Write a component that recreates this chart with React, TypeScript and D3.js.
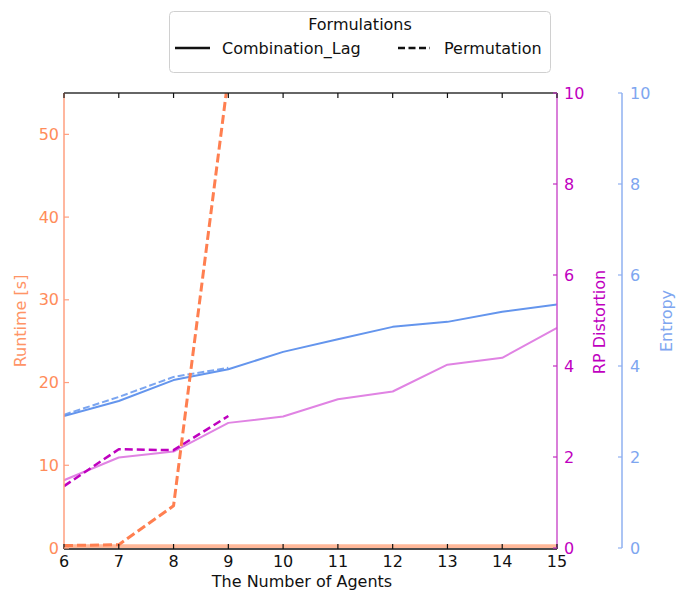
import React from "react";
import * as d3 from "d3";

const agents = [6, 7, 8, 9, 10, 11, 12, 13, 14, 15];
const agentsPerm = [6, 7, 8, 9];

const runtimeComb = [0.2, 0.2, 0.2, 0.2, 0.2, 0.2, 0.2, 0.2, 0.2, 0.2];
const runtimePerm = [0.3, 0.4, 5.1, 57];

const distortionComb = [1.49, 1.99, 2.12, 2.75, 2.89, 3.27, 3.44, 4.03, 4.18, 4.84];
const distortionPerm = [1.36, 2.17, 2.15, 2.9];

const entropyComb = [2.9, 3.23, 3.69, 3.93, 4.31, 4.59, 4.86, 4.97, 5.19, 5.35];
const entropyPerm = [2.93, 3.32, 3.76, 3.96];

const xTicks = [6, 7, 8, 9, 10, 11, 12, 13, 14, 15];
const runtimeTicks = [0, 10, 20, 30, 40, 50];
const rightTicks = [0, 2, 4, 6, 8, 10];

const FONT = "DejaVu Sans, sans-serif";
const L = 64, R = 557, T = 93, B = 548;
const E_AXIS = 622;

const cCoral = "#ff7f50";
const cSalmon = "#ffb899";
const cMagenta = "#bf00bf";
const cViolet = "#e083e3";
const cBlue = "#6495ed";

export default function App() {
  const x = d3.scaleLinear().domain([6, 15]).range([L, R]);
  const yR = d3.scaleLinear().domain([0, 55]).range([B, T]);
  const yD = d3.scaleLinear().domain([0, 10]).range([B, T]);
  const yE = d3.scaleLinear().domain([0, 10]).range([B, T]);

  const mk = (xs: number[], ys: number[], y: d3.ScaleLinear<number, number>) =>
    d3.line<number>().x((_, i) => x(xs[i])).y((d) => y(d))(ys) || "";

  return (
    <div style={{ position: "absolute", left: 0, top: 0 }}>
      <svg width={677} height={597} style={{ display: "block", fontFamily: FONT }}>
        <rect width={677} height={597} fill="#fff" />
        <defs>
          <clipPath id="plot">
            <rect x={L} y={T} width={R - L} height={B - T} />
          </clipPath>
        </defs>

        {/* data */}
        <g clipPath="url(#plot)" fill="none" strokeLinejoin="round">
          <path d={mk(agents, runtimeComb, yR)} stroke={cSalmon} strokeWidth={4} />
          <path d={mk(agents, entropyComb, yE)} stroke={cBlue} strokeWidth={2} />
          <path d={mk(agentsPerm, entropyPerm, yE)} stroke={cBlue} strokeWidth={2} strokeDasharray="7,3" opacity={0.85} />
          <path d={mk(agents, distortionComb, yD)} stroke={cViolet} strokeWidth={2} />
          <path d={mk(agentsPerm, distortionPerm, yD)} stroke={cMagenta} strokeWidth={2.5} strokeDasharray="8,4" />
          <path d={mk(agentsPerm, runtimePerm, yR)} stroke={cCoral} strokeWidth={3} strokeDasharray="9,4" />
        </g>

        {/* spines */}
        <line x1={L} x2={R} y1={T} y2={T} stroke="#333" strokeWidth={1.5} />
        <line x1={L} x2={R} y1={B + 1} y2={B + 1} stroke="#111" strokeWidth={1.5} />
        <line x1={L} x2={L} y1={T} y2={B + 1} stroke="#ff9f7f" strokeWidth={1.5} />
        <line x1={R} x2={R} y1={T} y2={B + 1} stroke="#cc55cc" strokeWidth={1.5} />
        <line x1={E_AXIS} x2={E_AXIS} y1={T} y2={B} stroke="#8fb0f0" strokeWidth={1.5} />

        {/* x ticks */}
        {xTicks.map((t) => (
          <g key={"x" + t}>
            <line x1={x(t)} x2={x(t)} y1={B + 1} y2={B - 4} stroke="#111" strokeWidth={1.2} />
            <line x1={x(t)} x2={x(t)} y1={T} y2={T + 5} stroke="#111" strokeWidth={1.2} />
            <text x={x(t)} y={567} fontSize={16} textAnchor="middle" fill="#111">
              {t}
            </text>
          </g>
        ))}
        <text x={302} y={587} fontSize={16} textAnchor="middle" fill="#111">
          The Number of Agents
        </text>

        {/* runtime axis */}
        {runtimeTicks.map((t) => (
          <g key={"r" + t}>
            <line x1={L} x2={L + 5} y1={yR(t)} y2={yR(t)} stroke="#ff9f7f" strokeWidth={1.2} />
            <text x={59} y={yR(t)} dy="0.35em" fontSize={16} textAnchor="end" fill="#ff8c5a">
              {t}
            </text>
          </g>
        ))}
        <text
          transform={`translate(26,${321}) rotate(-90)`}
          fontSize={16}
          textAnchor="middle"
          fill="#ff9466"
        >
          Runtime [s]
        </text>

        {/* distortion axis */}
        {rightTicks.map((t) => (
          <g key={"d" + t}>
            <line x1={R - 4} x2={R} y1={yD(t)} y2={yD(t)} stroke="#c030c0" strokeWidth={1.2} />
            <text x={564} y={yD(t)} dy="0.35em" fontSize={16} textAnchor="start" fill={cMagenta}>
              {t}
            </text>
          </g>
        ))}
        <text
          transform={`translate(605,${322}) rotate(-90)`}
          fontSize={16}
          textAnchor="middle"
          fill={cMagenta}
        >
          RP Distortion
        </text>

        {/* entropy axis */}
        {rightTicks.map((t) => (
          <g key={"e" + t}>
            <line x1={E_AXIS - 4} x2={E_AXIS} y1={yE(t)} y2={yE(t)} stroke="#8fb0f0" strokeWidth={1.2} />
            <text x={630} y={yE(t)} dy="0.35em" fontSize={16} textAnchor="start" fill="#7ea6f0">
              {t}
            </text>
          </g>
        ))}
        <text
          transform={`translate(672,${321}) rotate(-90)`}
          fontSize={16}
          textAnchor="middle"
          fill="#7ea6f0"
        >
          Entropy
        </text>

        {/* legend */}
        <rect x={169.5} y={11.5} width={381} height={61} rx={4} fill="#fff" stroke="#d0d0d0" strokeWidth={1} />
        <text x={360} y={30} fontSize={16} textAnchor="middle" fill="#111">
          Formulations
        </text>
        <line x1={175} x2={210} y1={48} y2={48} stroke="#111" strokeWidth={2.5} />
        <text x={222} y={54} fontSize={16} fill="#111">
          Combination_Lag
        </text>
        <line x1={398} x2={430} y1={48} y2={48} stroke="#111" strokeWidth={2.5} strokeDasharray="7,3.5" />
        <text x={444} y={54} fontSize={16} fill="#111">
          Permutation
        </text>
      </svg>
    </div>
  );
}
